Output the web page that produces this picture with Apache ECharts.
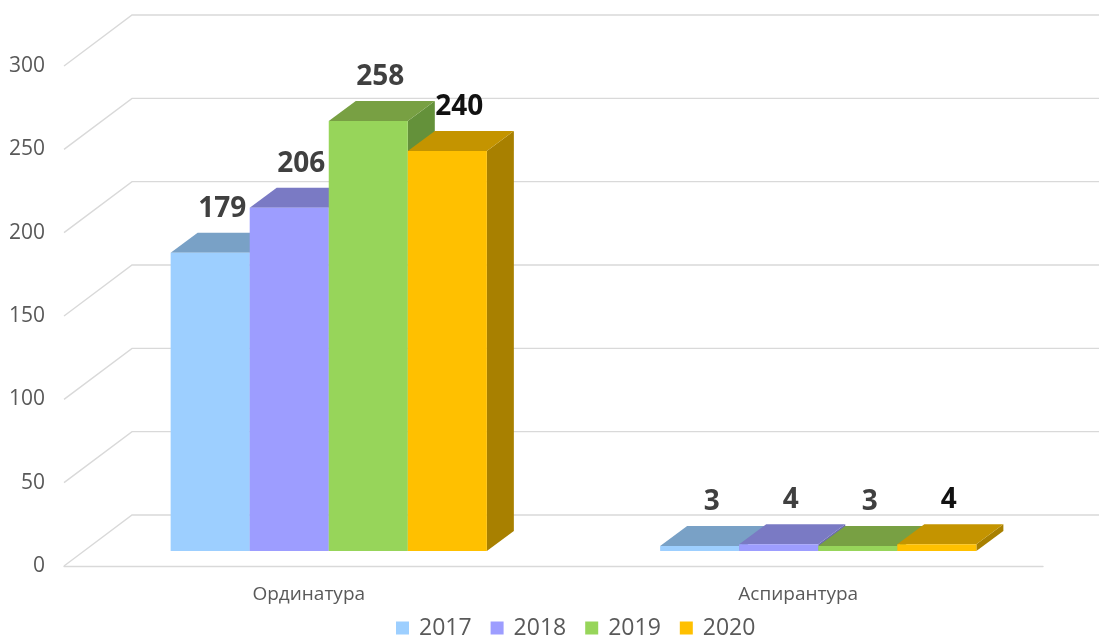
<!DOCTYPE html>
<html>
<head>
<meta charset="utf-8">
<script src="https://cdn.jsdelivr.net/npm/echarts@6/dist/echarts.min.js"></script>
<style>
  html, body { margin: 0; padding: 0; background: #fff; }
  #chart { width: 1099px; height: 639px; }
</style>
</head>
<body>
<div id="chart"></div>
<script>
const categories = ['Ординатура', 'Аспирантура'];
const years = ['2017', '2018', '2019', '2020'];
const values2017 = [179, 3];
const values2018 = [206, 4];
const values2019 = [258, 3];
const values2020 = [240, 4];
const yTicks = [0, 50, 100, 150, 200, 250, 300];

const seriesValues = [values2017, values2018, values2019, values2020];

// faces: front, top, side
const faceColors = [
  ['#9DCFFF', '#79A1C6', '#6E93B6'],
  ['#9D9DFF', '#7A7AC4', '#6A6AB0'],
  ['#97D55A', '#78A043', '#64913A'],
  ['#FFC000', '#C49400', '#A88000']
];
const labelColors = ['#404040', '#404040', '#404040', '#111111'];

// fake 3d geometry (px)
const WALL_DX = 68, WALL_DY = 51;      // floor depth
const PLANE_DX = 20, PLANE_DY = 15;    // bars front plane
const BOX_DX = 27, BOX_DY = 20;        // bar depth
const BAR_FRACTION = 0.1615;           // bar width / category band

const chartDom = document.getElementById('chart');
const chart = echarts.init(chartDom);

function renderWall(params, api) {
  const cs = params.coordSys;
  const p = api.coord([0, api.value(1)]);
  const y = p[1];
  return {
    type: 'polyline',
    silent: true,
    shape: {
      points: [
        [cs.x, y],
        [cs.x + WALL_DX, y - WALL_DY],
        [cs.x + cs.width + WALL_DX + 20, y - WALL_DY]
      ]
    },
    style: { stroke: '#D9D9D9', lineWidth: 1.4, fill: null }
  };
}

function makeBarRenderer(k) {
  return function (params, api) {
    const cat = api.value(0);
    const val = api.value(1);
    const band = api.size([1, 0])[0];
    const barW = band * BAR_FRACTION;
    const base = api.coord([cat, 0]);
    const top = api.coord([cat, val]);
    const xl = base[0] + PLANE_DX - 2 * barW + k * barW;
    const xr = xl + barW;
    const yb = base[1] - PLANE_DY;
    const yt = top[1] - PLANE_DY;
    const c = faceColors[k];
    return {
      type: 'group',
      children: [
        {
          type: 'polygon',
          shape: { points: [[xr, yt], [xr + BOX_DX, yt - BOX_DY], [xr + BOX_DX, yb - BOX_DY], [xr, yb]] },
          style: { fill: c[2] }
        },
        {
          type: 'polygon',
          shape: { points: [[xl, yt], [xl + BOX_DX, yt - BOX_DY], [xr + BOX_DX, yt - BOX_DY], [xr, yt]] },
          style: { fill: c[1] }
        },
        {
          type: 'rect',
          shape: { x: xl, y: yt, width: barW, height: yb - yt },
          style: { fill: c[0] }
        },
        {
          type: 'text',
          z2: 100,
          x: (xl + xr) / 2 + 12,
          y: yt - BOX_DY - 24,
          style: {
            text: String(val),
            fill: labelColors[k],
            font: 'bold 28px "Open Sans"',
            align: 'center',
            verticalAlign: 'middle'
          }
        }
      ]
    };
  };
}

const barSeries = years.map(function (year, k) {
  return {
    name: year,
    type: 'custom',
    z: 3,
    renderItem: makeBarRenderer(k),
    itemStyle: { color: faceColors[k][0] },
    data: seriesValues[k].map(function (v, i) { return [i, v]; })
  };
});

const option = {
  animation: false,
  textStyle: { fontFamily: 'Open Sans' },
  grid: { left: 64, right: 56, top: 66, bottom: 73 },
  legend: {
    data: years,
    left: 396,
    top: 616,
    padding: 0,
    icon: 'rect',
    itemWidth: 13,
    itemHeight: 13,
    itemGap: 19,
    textStyle: { fontSize: 23, color: '#595959', fontFamily: 'Open Sans', lineHeight: 24, padding: [0, 0, 0, 5] }
  },
  xAxis: {
    type: 'category',
    data: categories,
    axisLine: { show: true, lineStyle: { color: '#D9D9D9', width: 1.4 } },
    axisTick: { show: false },
    axisLabel: { fontSize: 19, color: '#595959', margin: 19, fontFamily: 'Open Sans' }
  },
  yAxis: {
    type: 'value',
    min: 0,
    max: 300,
    interval: 50,
    axisLine: { show: false },
    axisTick: { show: false },
    splitLine: { show: false },
    axisLabel: { fontSize: 21, color: '#595959', margin: 19, fontFamily: 'Open Sans' }
  },
  series: [
    {
      name: 'wall',
      type: 'custom',
      z: 1,
      silent: true,
      renderItem: renderWall,
      data: yTicks.map(function (t) { return [0, t]; })
    }
  ].concat(barSeries)
};

chart.setOption(option);
</script>
</body>
</html>
